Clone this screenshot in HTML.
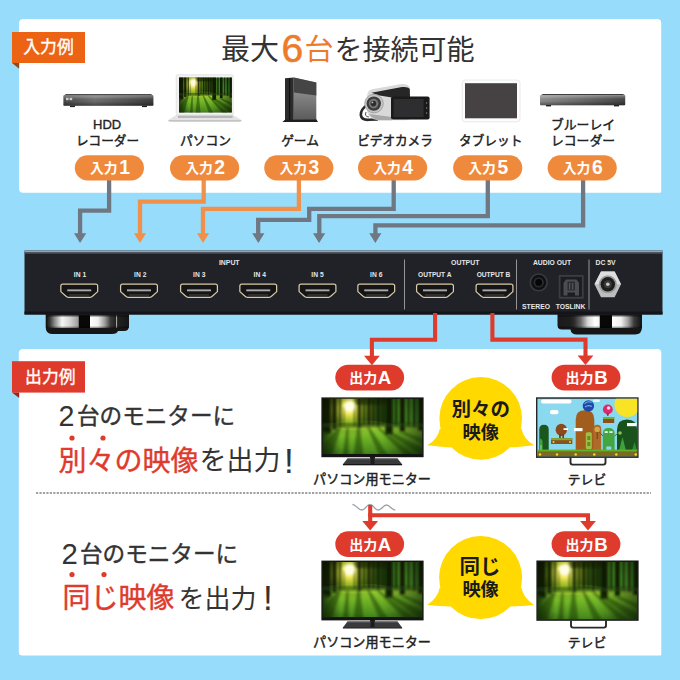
<!DOCTYPE html>
<html><head><meta charset="utf-8"><title>HDMI</title>
<style>html,body{margin:0;padding:0;background:#98dcfb;font-family:"Liberation Sans",sans-serif}svg{display:block}text{font-family:"Liberation Sans","Noto Sans CJK JP",sans-serif}</style>
</head><body>
<svg width="680" height="680" viewBox="0 0 680 680">
<rect width="680" height="680" fill="#98dcfb"/>
<defs>
<linearGradient id="gRec" x1="0" y1="0" x2="1" y2="0"><stop offset="0" stop-color="#4a4a4a"/><stop offset=".35" stop-color="#6e6e6e"/><stop offset="1" stop-color="#3c3c3c"/></linearGradient>
<linearGradient id="gRecV" x1="0" y1="0" x2="0" y2="1"><stop offset="0" stop-color="#fff" stop-opacity=".32"/><stop offset=".25" stop-color="#fff" stop-opacity=".12"/><stop offset=".55" stop-color="#000" stop-opacity="0"/><stop offset="1" stop-color="#000" stop-opacity=".4"/></linearGradient>
<linearGradient id="gGame" x1="0" y1="0" x2="0" y2="1"><stop offset=".3" stop-color="#8c8c8c"/><stop offset="1" stop-color="#5a5a5a"/></linearGradient>
<linearGradient id="gBd" x1="0" y1="0" x2="1" y2="0"><stop offset="0" stop-color="#8e8e8e"/><stop offset=".5" stop-color="#6a6a6a"/><stop offset="1" stop-color="#444"/></linearGradient>
<radialGradient id="gSun" cx=".5" cy=".5" r=".5"><stop offset="0" stop-color="#fffbc0"/><stop offset=".2" stop-color="#efe858"/><stop offset=".45" stop-color="#b4c82c" stop-opacity=".8"/><stop offset=".75" stop-color="#6a961c" stop-opacity=".35"/><stop offset="1" stop-color="#3f6a16" stop-opacity="0"/></radialGradient>
<linearGradient id="gCanopy" x1="0" y1="0" x2="1" y2="0"><stop offset="0" stop-color="#1a3010"/><stop offset=".18" stop-color="#3a5a14"/><stop offset=".3" stop-color="#6a8f1e"/><stop offset=".45" stop-color="#3a6416"/><stop offset=".62" stop-color="#2e5814"/><stop offset=".8" stop-color="#4a9026"/><stop offset="1" stop-color="#2e6a1e"/></linearGradient>
<linearGradient id="gGround" x1="0" y1="0" x2="0" y2="1"><stop offset="0" stop-color="#9fd036"/><stop offset=".4" stop-color="#74b626"/><stop offset="1" stop-color="#44841c"/></linearGradient>
<linearGradient id="gGroundH" x1="0" y1="0" x2="1" y2="0"><stop offset="0" stop-color="#10200a" stop-opacity=".75"/><stop offset=".18" stop-color="#10200a" stop-opacity="0"/><stop offset=".6" stop-color="#10200a" stop-opacity="0"/><stop offset="1" stop-color="#10200a" stop-opacity=".55"/></linearGradient>
<radialGradient id="gVig" cx=".45" cy=".5" r=".75"><stop offset=".6" stop-color="#000" stop-opacity="0"/><stop offset="1" stop-color="#000" stop-opacity=".3"/></radialGradient>
<filter id="fb" x="-5%" y="-5%" width="110%" height="110%"><feGaussianBlur stdDeviation=".8"/></filter>
<filter id="fb2" x="-50%" y="-50%" width="200%" height="200%"><feGaussianBlur stdDeviation="1.2"/></filter>
<linearGradient id="gFoot" x1="0" y1="0" x2="1" y2="0"><stop offset="0" stop-color="#111"/><stop offset=".05" stop-color="#333"/><stop offset=".12" stop-color="#777"/><stop offset=".28" stop-color="#d8d8d8"/><stop offset=".38" stop-color="#f0f0f0"/><stop offset=".39" stop-color="#111"/><stop offset=".52" stop-color="#111"/><stop offset=".53" stop-color="#fff"/><stop offset=".68" stop-color="#e0e0e0"/><stop offset=".8" stop-color="#777"/><stop offset=".82" stop-color="#222"/><stop offset="1" stop-color="#111"/></linearGradient>

</defs>
<path d="M23.5,18.9 H657.2 Q661.2,18.9 661.2,22.9 V191.60000000000002 Q661.2,192.8 660.0,192.8 H23 Q19,192.8 19,188.8 V23.4 Q19,18.9 23.5,18.9 Z" fill="#fff"/>
<polygon points="12,63 19.2,63 19.2,68.8" fill="#8f4a1c"/>
<rect x="12" y="32" width="73" height="31" fill="#ec6314"/>
<text x="48.5" y="53" font-size="16.8" text-anchor="middle" fill="#fff" stroke="#fff" stroke-width=".35">入力例</text>
<text x="221" y="60" font-size="29" fill="#333333">最大</text>
<text x="281.5" y="62.2" font-size="39" fill="#ee7b2a" stroke="#ee7b2a" stroke-width=".6">6</text>
<text x="304.5" y="60.3" font-size="29" fill="#ee7b2a">台</text>
<text x="334.5" y="60" font-size="28" fill="#333333">を接続可能</text>
<g><polygon points="66,93.9 151,93.9 153.4,95.8 63.4,95.8" fill="#4c4c4c"/><rect x="63.4" y="95.6" width="90" height="10.2" rx=".8" fill="url(#gRec)"/><rect x="63.4" y="95.6" width="90" height="10.2" rx=".8" fill="url(#gRecV)"/><rect x="66" y="97.8" width="2.6" height="2.4" fill="#ccc"/><rect x="69.6" y="97.8" width="2.6" height="2.4" fill="#ccc"/><rect x="70" y="105.6" width="5" height="1.5" fill="#222"/><rect x="142" y="105.6" width="5" height="1.5" fill="#222"/></g>
<g><rect x="176.2" y="74.7" width="57" height="40.3" rx="1.5" fill="#f2f2f2" stroke="#d8d8d8" stroke-width=".6"/><svg x="179.1" y="77.6" width="52.7" height="35" viewBox="0 0 100 56" preserveAspectRatio="none"><defs><filter id="fb_1" x="-5%" y="-5%" width="110%" height="110%"><feGaussianBlur stdDeviation="0.569 0.480"/></filter><filter id="fc_1" x="-60%" y="-60%" width="220%" height="220%"><feGaussianBlur stdDeviation="1.898 1.600"/></filter></defs>
<rect width="100" height="56" fill="#16280c"/>
<rect width="100" height="30" fill="url(#gCanopy)"/>
<rect y="26" width="100" height="30" fill="url(#gGround)"/>
<rect y="26" width="100" height="30" fill="url(#gGroundH)"/>
<ellipse cx="27" cy="10" rx="32" ry="28" fill="url(#gSun)"/><ellipse cx="36" cy="27" rx="34" ry="5" fill="#a8cc34" opacity=".45"/>
<g filter="url(#fb_1)">
<g fill="#0c1806">
<rect x="-2" y="-2" width="10" height="37" opacity=".95"/><rect x="9.5" y="-2" width="4.5" height="33" opacity=".9"/>
<rect x="16" y="-2" width="2.6" height="31" opacity=".7"/><rect x="20.5" y="8" width="1.4" height="21" opacity=".4"/>
<rect x="31.2" y="-2" width="1.8" height="30" opacity=".5"/>
<rect x="35" y="-2" width="3.8" height="31" opacity=".85"/><rect x="40.3" y="-2" width="2.6" height="29" opacity=".8"/>
<rect x="44.6" y="-2" width="3.6" height="29" opacity=".85"/><rect x="49.6" y="-2" width="2.8" height="29" opacity=".8"/>
<rect x="54" y="-2" width="3.6" height="30" opacity=".85"/><rect x="59" y="-2" width="2.8" height="29" opacity=".8"/>
<rect x="63" y="-2" width="7.2" height="38" opacity=".95"/><rect x="72.5" y="-2" width="2.5" height="30" opacity=".8"/>
<rect x="77.5" y="-2" width="5" height="35" opacity=".95"/><rect x="85" y="-2" width="2.5" height="30" opacity=".75"/>
<rect x="90.5" y="-2" width="3" height="31" opacity=".8"/><rect x="96" y="-2" width="6" height="34" opacity=".95"/>
<rect x="33" y="-2" width="30" height="8" opacity=".55"/>
</g>
<g fill="#1a3a0a" opacity=".5">
<polygon points="15.5,29 18.5,29 9,58 -4,58 -4,50"/><polygon points="34.5,29 37.5,29 41,58 31,58"/>
<polygon points="44.5,28.5 47,28.5 66,58 57,58"/><polygon points="54,29 57,29 94,58 83,58"/>
<polygon points="63,34 70,34 104,52 104,58 99,58"/><polygon points="-4,30 8,34 -4,48"/>
<polygon points="77,34 83,34 104,42 104,47"/><polygon points="24,29 26,29 26,58 20,58"/>
</g>
<rect x="-2" y="24.5" width="104" height="4.5" fill="#1b3a0c" opacity=".5"/>
</g>
<circle cx="27" cy="7.5" r="5.6" fill="#fffde6" filter="url(#fc_1)"/>
<rect width="100" height="56" fill="url(#gVig)"/>
</svg><polygon points="176.2,115 233.2,115 241.5,120 168.3,120" fill="#e4e4e4"/><rect x="178" y="115.6" width="54.6" height="2.4" fill="#b8b8b8"/><path d="M168.3,120 H241.5 V120.8 Q241.5,121.8 239,121.8 H170.8 Q168.3,121.8 168.3,120.8Z" fill="#c4c4c4"/></g>
<g><polygon points="285,78.2 293.8,77.5 293.8,120.3 285,120.3" fill="#2c2c2c"/><polygon points="293.8,77.5 316.3,82.4 316.3,119.9 293.8,120.3" fill="url(#gGame)"/><polygon points="293.8,77.5 316.3,82.4 316.3,95.6 293.8,92.5" fill="#454545"/><rect x="289" y="78" width="1.2" height="42" fill="#111"/><polygon points="282.4,122 285,119.8 316.5,119.6 318,122" fill="#1e1e1e"/></g>
<g><path d="M368.5,104 Q360.5,109 360.8,115 Q361.5,120.3 369,119.8 L377,119.5" fill="none" stroke="#2a2a2a" stroke-width="2.6" stroke-linecap="round"/><path d="M366,112 Q364,116.5 369,117" fill="none" stroke="#555" stroke-width="1"/><path d="M367,97 Q367,91 372,89.3 L400,84.2 Q407.5,83.4 409.8,87.5 L410.2,118 Q409.5,120.2 406,120.2 L379,120.2 Q367.5,119.5 367,110Z" fill="#d9d9d9"/><path d="M371.5,92.8 L402,87 Q408,86.4 409.8,89 L410,98 L392,97.5 L378,95.2Z" fill="#262626"/><path d="M379,120.2 Q372,119 369,114 L392,117 V120.2Z" fill="#a8a8a8"/><circle cx="374" cy="103.6" r="9.3" fill="#c4c4c4"/><circle cx="374" cy="103.6" r="9.3" fill="none" stroke="#9a9a9a" stroke-width=".8"/><circle cx="373.8" cy="103.6" r="7.2" fill="#3c3c3c"/><circle cx="373.6" cy="103.6" r="4.8" fill="#777"/><circle cx="373.4" cy="103.6" r="2.8" fill="#2c2c2c"/><circle cx="372.4" cy="102.4" r=".9" fill="#bbb"/><rect x="391" y="96.6" width="38.6" height="22.9" rx="2" fill="#1a1a1a"/><rect x="393.6" y="99" width="30" height="18" fill="#2e2e30"/><circle cx="426.7" cy="103" r=".7" fill="#888"/><circle cx="426.7" cy="108" r=".7" fill="#888"/><circle cx="426.7" cy="113" r=".7" fill="#888"/></g>
<g><rect x="462.2" y="80" width="57.8" height="41.8" rx="3" fill="#fdfdfd" stroke="#e4e4e4" stroke-width=".8"/><rect x="465" y="83.2" width="52" height="35.1" fill="#464143"/></g>
<g><polygon points="543,93.9 623,93.9 625.5,95.6 540,95.6" fill="#3e3e3e"/><rect x="540" y="95.4" width="85.2" height="9.8" rx=".8" fill="url(#gBd)"/><rect x="540" y="95.4" width="85.2" height="9.8" rx=".8" fill="url(#gRecV)"/><rect x="546" y="105" width="5" height="1.4" fill="#222"/><rect x="614" y="105" width="5" height="1.4" fill="#222"/></g>
<text x="107.1" y="128.6" font-size="13" text-anchor="middle" fill="#222222" stroke="#222" stroke-width=".35">HDD</text>
<text x="107.5" y="145" font-size="12.6" text-anchor="middle" fill="#222222" stroke="#222" stroke-width=".45">レコーダー</text>
<text x="205.5" y="145" font-size="12.75" text-anchor="middle" fill="#222222" stroke="#222" stroke-width=".45">パソコン</text>
<text x="300" y="145" font-size="12.7" text-anchor="middle" fill="#222222" stroke="#222" stroke-width=".45">ゲーム</text>
<text x="395" y="145" font-size="12.6" text-anchor="middle" fill="#222222" stroke="#222" stroke-width=".45">ビデオカメラ</text>
<text x="490.7" y="145" font-size="12.7" text-anchor="middle" fill="#222222" stroke="#222" stroke-width=".45">タブレット</text>
<text x="583" y="129" font-size="12.8" text-anchor="middle" fill="#222222" stroke="#222" stroke-width=".45">ブルーレイ</text>
<text x="583" y="145" font-size="12.8" text-anchor="middle" fill="#222222" stroke="#222" stroke-width=".45">レコーダー</text>
<path d="M109.1,178 V210.6 H80.1 V234" fill="none" stroke="#6f7782" stroke-width="4.3" stroke-linejoin="miter"/>
<polygon points="74.0,233.20000000000002 86.19999999999999,233.20000000000002 80.1,242.9" fill="#6f7782"/>
<path d="M203.7,178 V201.7 H140 V234" fill="none" stroke="#f0914b" stroke-width="4.3" stroke-linejoin="miter"/>
<polygon points="133.9,233.3 146.1,233.3 140,243" fill="#f0914b"/>
<path d="M298.9,178 V208.9 H203 V234" fill="none" stroke="#f0914b" stroke-width="4.3" stroke-linejoin="miter"/>
<polygon points="196.9,233.3 209.1,233.3 203,243" fill="#f0914b"/>
<path d="M393.7,178 V208.9 H309.2 V219.8 H258.2 V234" fill="none" stroke="#6f7782" stroke-width="4.3" stroke-linejoin="miter"/>
<polygon points="252.20000000000002,233.20000000000002 264.40000000000003,233.20000000000002 258.3,242.9" fill="#6f7782"/>
<path d="M487.8,178 V216.2 H319.3 V234" fill="none" stroke="#6f7782" stroke-width="4.3" stroke-linejoin="miter"/>
<polygon points="313.0,233.20000000000002 325.20000000000005,233.20000000000002 319.1,242.9" fill="#6f7782"/>
<path d="M583.1,178 V225.3 H375.4 V234" fill="none" stroke="#6f7782" stroke-width="4.3" stroke-linejoin="miter"/>
<polygon points="369.2,233.20000000000002 381.40000000000003,233.20000000000002 375.3,242.9" fill="#6f7782"/>
<rect x="74.8" y="155.3" width="69.2" height="25.1" rx="12.55" fill="#ef8a3c"/>
<text x="90" y="172.9" font-size="13.8" font-weight="bold" fill="#fff">入力</text>
<text x="119.2" y="174" font-size="19.3" font-weight="bold" fill="#fff">1</text>
<rect x="170" y="155.3" width="69.2" height="25.1" rx="12.55" fill="#ef8a3c"/>
<text x="185.2" y="172.9" font-size="13.8" font-weight="bold" fill="#fff">入力</text>
<text x="214.3" y="174" font-size="19.3" font-weight="bold" fill="#fff">2</text>
<rect x="264.2" y="155.3" width="69.2" height="25.1" rx="12.55" fill="#ef8a3c"/>
<text x="279.4" y="172.9" font-size="13.8" font-weight="bold" fill="#fff">入力</text>
<text x="308.5" y="174" font-size="19.3" font-weight="bold" fill="#fff">3</text>
<rect x="358" y="155.3" width="69.2" height="25.1" rx="12.55" fill="#ef8a3c"/>
<text x="373.2" y="172.9" font-size="13.8" font-weight="bold" fill="#fff">入力</text>
<text x="402.3" y="174" font-size="19.3" font-weight="bold" fill="#fff">4</text>
<rect x="453.1" y="155.3" width="69.2" height="25.1" rx="12.55" fill="#ef8a3c"/>
<text x="468.3" y="172.9" font-size="13.8" font-weight="bold" fill="#fff">入力</text>
<text x="497.4" y="174" font-size="19.3" font-weight="bold" fill="#fff">5</text>
<rect x="547.6" y="155.3" width="69.2" height="25.1" rx="12.55" fill="#ef8a3c"/>
<text x="562.8" y="172.9" font-size="13.8" font-weight="bold" fill="#fff">入力</text>
<text x="591.9" y="174" font-size="19.3" font-weight="bold" fill="#fff">6</text>
<g>
<linearGradient id="gF1" gradientUnits="userSpaceOnUse" x1="46" y1="0" x2="130" y2="0"><stop offset="0.0000" stop-color="#0e0e0e"/><stop offset="0.0476" stop-color="#3a3a3a"/><stop offset="0.1071" stop-color="#909090"/><stop offset="0.1905" stop-color="#f6f6f6"/><stop offset="0.2857" stop-color="#d4d4d4"/><stop offset="0.3857" stop-color="#9c9c9c"/><stop offset="0.3905" stop-color="#080808"/><stop offset="0.5190" stop-color="#080808"/><stop offset="0.5238" stop-color="#ffffff"/><stop offset="0.6190" stop-color="#f0f0f0"/><stop offset="0.7024" stop-color="#999"/><stop offset="0.7690" stop-color="#3a3a3a"/><stop offset="0.8310" stop-color="#222"/><stop offset="0.8381" stop-color="#b0b0b0"/><stop offset="0.8524" stop-color="#222"/><stop offset="1.0000" stop-color="#141414"/></linearGradient>
<linearGradient id="gF2" gradientUnits="userSpaceOnUse" x1="557" y1="0" x2="642" y2="0"><stop offset="0.0000" stop-color="#1a1a1a"/><stop offset="0.1529" stop-color="#1e1e1e"/><stop offset="0.2000" stop-color="#2a2a2a"/><stop offset="0.2824" stop-color="#6a6a6a"/><stop offset="0.3647" stop-color="#d8d8d8"/><stop offset="0.4471" stop-color="#ffffff"/><stop offset="0.4988" stop-color="#f4f4f4"/><stop offset="0.5035" stop-color="#080808"/><stop offset="0.6447" stop-color="#080808"/><stop offset="0.6494" stop-color="#ffffff"/><stop offset="0.7529" stop-color="#f0f0f0"/><stop offset="0.8353" stop-color="#a0a0a0"/><stop offset="0.9059" stop-color="#3a3a3a"/><stop offset="1.0000" stop-color="#101010"/></linearGradient>
<path d="M45.7,313 H129 V326 Q129,331 124,331 H118 Q117,334 112,334 H52 Q45.7,334 45.7,327 Z" fill="#161616"/>
<rect x="46.5" y="315.6" width="82" height="12.4" fill="url(#gF1)"/>
<rect x="46.5" y="315.6" width="82" height="1.2" fill="#000" opacity=".35"/><rect x="46.5" y="326.6" width="82" height="1.4" fill="#000" opacity=".35"/>
<path d="M557.5,313 H642 V327 Q642,334.5 635,334.5 H577 Q571,334.5 570.5,329.5 H562 Q557.5,329.5 557.5,325 Z" fill="#161616"/>
<rect x="558" y="315.6" width="83.5" height="12.4" fill="url(#gF2)"/>
<rect x="558" y="315.6" width="83.5" height="1.2" fill="#000" opacity=".35"/><rect x="558" y="326.6" width="83.5" height="1.4" fill="#000" opacity=".35"/>
<rect x="24.5" y="250.5" width="638" height="64" fill="#202228"/>
<rect x="24.5" y="250.6" width="638" height="1.7" fill="#98a4b0"/><rect x="24.5" y="252.3" width="638" height="1.3" fill="#565e68"/>
<rect x="24.5" y="311.5" width="638" height="3" fill="#141518"/>
<rect x="404.0" y="259.5" width="1" height="50" fill="#959595"/>
<rect x="516.0" y="259.5" width="1" height="50" fill="#959595"/>
<rect x="588.5" y="259.5" width="1" height="50" fill="#959595"/>
<path d="M62.85,284 H95.65 Q97.65,284 97.65,286 V291.6 L92.45,296.2 Q91.65,297.4 90.15,297.4 H68.35 Q66.85,297.4 66.05,296.2 L60.85,291.6 V286 Q60.85,284 62.85,284 Z" fill="#151517" stroke="#d6c9a6" stroke-width="1.25" stroke-linejoin="round"/>
<rect x="67.25" y="289.4" width="24" height="1.9" fill="#a9a9a9"/>
<rect x="69.25" y="294.6" width="20" height=".8" fill="#6d6650" opacity=".8"/>
<path d="M122.6,284 H155.4 Q157.4,284 157.4,286 V291.6 L152.20000000000002,296.2 Q151.4,297.4 149.9,297.4 H128.1 Q126.6,297.4 125.8,296.2 L120.6,291.6 V286 Q120.6,284 122.6,284 Z" fill="#151517" stroke="#d6c9a6" stroke-width="1.25" stroke-linejoin="round"/>
<rect x="127" y="289.4" width="24" height="1.9" fill="#a9a9a9"/>
<rect x="129" y="294.6" width="20" height=".8" fill="#6d6650" opacity=".8"/>
<path d="M182.6,284 H215.4 Q217.4,284 217.4,286 V291.6 L212.20000000000002,296.2 Q211.4,297.4 209.9,297.4 H188.1 Q186.6,297.4 185.79999999999998,296.2 L180.6,291.6 V286 Q180.6,284 182.6,284 Z" fill="#151517" stroke="#d6c9a6" stroke-width="1.25" stroke-linejoin="round"/>
<rect x="187" y="289.4" width="24" height="1.9" fill="#a9a9a9"/>
<rect x="189" y="294.6" width="20" height=".8" fill="#6d6650" opacity=".8"/>
<path d="M241.85,284 H274.65 Q276.65,284 276.65,286 V291.6 L271.45,296.2 Q270.65,297.4 269.15,297.4 H247.35 Q245.85,297.4 245.04999999999998,296.2 L239.85,291.6 V286 Q239.85,284 241.85,284 Z" fill="#151517" stroke="#d6c9a6" stroke-width="1.25" stroke-linejoin="round"/>
<rect x="246.25" y="289.4" width="24" height="1.9" fill="#a9a9a9"/>
<rect x="248.25" y="294.6" width="20" height=".8" fill="#6d6650" opacity=".8"/>
<path d="M301.1,284 H333.9 Q335.9,284 335.9,286 V291.6 L330.7,296.2 Q329.9,297.4 328.4,297.4 H306.6 Q305.1,297.4 304.3,296.2 L299.1,291.6 V286 Q299.1,284 301.1,284 Z" fill="#151517" stroke="#d6c9a6" stroke-width="1.25" stroke-linejoin="round"/>
<rect x="305.5" y="289.4" width="24" height="1.9" fill="#a9a9a9"/>
<rect x="307.5" y="294.6" width="20" height=".8" fill="#6d6650" opacity=".8"/>
<path d="M359.85,284 H392.65 Q394.65,284 394.65,286 V291.6 L389.45,296.2 Q388.65,297.4 387.15,297.4 H365.35 Q363.85,297.4 363.05,296.2 L357.85,291.6 V286 Q357.85,284 359.85,284 Z" fill="#151517" stroke="#d6c9a6" stroke-width="1.25" stroke-linejoin="round"/>
<rect x="364.25" y="289.4" width="24" height="1.9" fill="#a9a9a9"/>
<rect x="366.25" y="294.6" width="20" height=".8" fill="#6d6650" opacity=".8"/>
<path d="M418.6,284 H451.4 Q453.4,284 453.4,286 V291.6 L448.2,296.2 Q447.4,297.4 445.9,297.4 H424.1 Q422.6,297.4 421.8,296.2 L416.6,291.6 V286 Q416.6,284 418.6,284 Z" fill="#151517" stroke="#d6c9a6" stroke-width="1.25" stroke-linejoin="round"/>
<rect x="423" y="289.4" width="24" height="1.9" fill="#a9a9a9"/>
<rect x="425" y="294.6" width="20" height=".8" fill="#6d6650" opacity=".8"/>
<path d="M478.1,284 H510.9 Q512.9,284 512.9,286 V291.6 L507.7,296.2 Q506.9,297.4 505.4,297.4 H483.6 Q482.1,297.4 481.3,296.2 L476.1,291.6 V286 Q476.1,284 478.1,284 Z" fill="#151517" stroke="#d6c9a6" stroke-width="1.25" stroke-linejoin="round"/>
<rect x="482.5" y="289.4" width="24" height="1.9" fill="#a9a9a9"/>
<rect x="484.5" y="294.6" width="20" height=".8" fill="#6d6650" opacity=".8"/>
<text x="80" y="277.3" font-size="6.7" font-weight="bold" text-anchor="middle" fill="#e6e6e6">IN 1</text>
<text x="140.25" y="277.3" font-size="6.7" font-weight="bold" text-anchor="middle" fill="#e6e6e6">IN 2</text>
<text x="199.25" y="277.3" font-size="6.7" font-weight="bold" text-anchor="middle" fill="#e6e6e6">IN 3</text>
<text x="259.75" y="277.3" font-size="6.7" font-weight="bold" text-anchor="middle" fill="#e6e6e6">IN 4</text>
<text x="317.5" y="277.3" font-size="6.7" font-weight="bold" text-anchor="middle" fill="#e6e6e6">IN 5</text>
<text x="376.25" y="277.3" font-size="6.7" font-weight="bold" text-anchor="middle" fill="#e6e6e6">IN 6</text>
<text x="229.25" y="265.4" font-size="6.9" font-weight="bold" text-anchor="middle" fill="#e6e6e6">INPUT</text>
<text x="465.25" y="265.4" font-size="6.9" font-weight="bold" text-anchor="middle" fill="#e6e6e6">OUTPUT</text>
<text x="434.75" y="277.2" font-size="6.6" font-weight="bold" text-anchor="middle" fill="#e6e6e6">OUTPUT A</text>
<text x="493.5" y="277.2" font-size="6.6" font-weight="bold" text-anchor="middle" fill="#e6e6e6">OUTPUT B</text>
<text x="552" y="265.4" font-size="6.8" font-weight="bold" text-anchor="middle" fill="#e6e6e6">AUDIO OUT</text>
<text x="605.5" y="265.4" font-size="6.8" font-weight="bold" text-anchor="middle" fill="#e6e6e6">DC 5V</text>
<text x="536" y="308.9" font-size="6.8" font-weight="bold" text-anchor="middle" fill="#e6e6e6">STEREO</text>
<text x="570.5" y="308.9" font-size="6.8" font-weight="bold" text-anchor="middle" fill="#e6e6e6">TOSLINK</text>
<circle cx="538.7" cy="282.4" r="9.2" fill="#3a3b40"/><circle cx="538.7" cy="282.4" r="7.6" fill="#101012"/><circle cx="538.7" cy="282.4" r="5.2" fill="#2a2b2f"/><circle cx="538.7" cy="282.4" r="3.4" fill="#050505"/>
<rect x="558.7" y="275" width="25" height="23.7" rx="1" fill="#3c3d42"/><rect x="560.5" y="276.8" width="21.4" height="20" fill="#1c1d20"/><path d="M563.5,295.5 V283 L566,279.5 H576.5 L579,283 V295.5 H575 V292.5 H567.5 V295.5Z" fill="#4c4d52"/><rect x="567.5" y="281.5" width="7.5" height="9" fill="#2c2d30"/><rect x="569" y="283" width="1.2" height="6.5" fill="#55565b"/><rect x="572" y="283" width="1.2" height="6.5" fill="#55565b"/>
<polygon points="594.5,284.3 601,271.5 614.6,271.5 621,284.3 614.6,297.2 601,297.2" fill="#bdbdbd"/><polygon points="594.5,284.3 601,271.5 614.6,271.5 621,284.3" fill="#dedede"/><circle cx="607.8" cy="284.3" r="9" fill="#9a9a9a"/><circle cx="607.8" cy="284.3" r="7.2" fill="#1d1d1d"/><circle cx="607.8" cy="284.3" r="4" fill="#3a3a3a"/><circle cx="607.8" cy="284.3" r="1.8" fill="#c8c8c8"/>
</g>
<path d="M23.3,348.9 H657.3 Q661.3,348.9 661.3,352.9 V654.3 Q661.3,655.5 660.0999999999999,655.5 H22.3 Q18.8,655.5 18.8,652.0 V353.4 Q18.8,348.9 23.3,348.9 Z" fill="#fff"/>
<polygon points="12,392.6 19.2,392.6 19.2,398" fill="#9c2419"/>
<rect x="12" y="361.2" width="73" height="31.4" fill="#de3b2d"/>
<text x="50.3" y="382.7" font-size="16.8" text-anchor="middle" fill="#fff" stroke="#fff" stroke-width=".35">出力例</text>
<path d="M435.1,313 V339.7 H371.9 V356" fill="none" stroke="#de3b2d" stroke-width="4.1" stroke-linejoin="miter"/>
<polygon points="364.0,355.7 379.79999999999995,355.7 371.9,365.2" fill="#de3b2d"/>
<path d="M492.4,313 V339.6 H585.5 V356" fill="none" stroke="#de3b2d" stroke-width="4.1" stroke-linejoin="miter"/>
<polygon points="577.6,355.5 593.4,355.5 585.5,365" fill="#de3b2d"/>
<path d="M352.4,504.4 C356,504.4 358,510 361.8,510 S366.5,504.4 370,504.4 S374.5,510 378.2,510 S383,505 386.5,505 S391.5,510 395.3,510" fill="none" stroke="#9aa3a8" stroke-width="1.3"/>
<path d="M370.2,505 V523" fill="none" stroke="#de3b2d" stroke-width="4.1" stroke-linejoin="miter"/>
<polygon points="362.3,521.1 378.09999999999997,521.1 370.2,530.6" fill="#de3b2d"/>
<path d="M368.2,515.3 H588 V523" fill="none" stroke="#de3b2d" stroke-width="4.1" stroke-linejoin="miter"/>
<polygon points="580.1,521.1 595.9,521.1 588,530.6" fill="#de3b2d"/>
<rect x="335.3" y="364.7" width="68.8" height="25.7" rx="12.85" fill="#de3b2d"/>
<text x="349.2" y="383" font-size="14" font-weight="bold" fill="#fff">出力</text>
<text x="377.8" y="384.2" font-size="18.6" font-weight="bold" fill="#fff">A</text>
<rect x="551.6" y="364.7" width="68.8" height="25.7" rx="12.85" fill="#de3b2d"/>
<text x="565.5" y="383" font-size="14" font-weight="bold" fill="#fff">出力</text>
<text x="594.2" y="384.2" font-size="18.6" font-weight="bold" fill="#fff">B</text>
<rect x="335.3" y="531.2" width="68.8" height="25.7" rx="12.85" fill="#de3b2d"/>
<text x="349.2" y="549.5" font-size="14" font-weight="bold" fill="#fff">出力</text>
<text x="377.8" y="550.7" font-size="18.6" font-weight="bold" fill="#fff">A</text>
<rect x="551.6" y="531.2" width="68.8" height="25.7" rx="12.85" fill="#de3b2d"/>
<text x="565.5" y="549.5" font-size="14" font-weight="bold" fill="#fff">出力</text>
<text x="594.2" y="550.7" font-size="18.6" font-weight="bold" fill="#fff">B</text>
<rect x="321.4" y="397.4" width="102.20000000000005" height="59.80000000000001" fill="#141414"/>
<svg x="322.7" y="398.7" width="99.60000000000005" height="55.40000000000001" viewBox="0 0 100 56" preserveAspectRatio="none"><defs><filter id="fb_2" x="-5%" y="-5%" width="110%" height="110%"><feGaussianBlur stdDeviation="0.954 0.960"/></filter><filter id="fc_2" x="-60%" y="-60%" width="220%" height="220%"><feGaussianBlur stdDeviation="1.506 1.516"/></filter></defs>
<rect width="100" height="56" fill="#16280c"/>
<rect width="100" height="30" fill="url(#gCanopy)"/>
<rect y="26" width="100" height="30" fill="url(#gGround)"/>
<rect y="26" width="100" height="30" fill="url(#gGroundH)"/>
<ellipse cx="27" cy="10" rx="32" ry="28" fill="url(#gSun)"/><ellipse cx="36" cy="27" rx="34" ry="5" fill="#a8cc34" opacity=".45"/>
<g filter="url(#fb_2)">
<g fill="#0c1806">
<rect x="-2" y="-2" width="10" height="37" opacity=".95"/><rect x="9.5" y="-2" width="4.5" height="33" opacity=".9"/>
<rect x="16" y="-2" width="2.6" height="31" opacity=".7"/><rect x="20.5" y="8" width="1.4" height="21" opacity=".4"/>
<rect x="31.2" y="-2" width="1.8" height="30" opacity=".5"/>
<rect x="35" y="-2" width="3.8" height="31" opacity=".85"/><rect x="40.3" y="-2" width="2.6" height="29" opacity=".8"/>
<rect x="44.6" y="-2" width="3.6" height="29" opacity=".85"/><rect x="49.6" y="-2" width="2.8" height="29" opacity=".8"/>
<rect x="54" y="-2" width="3.6" height="30" opacity=".85"/><rect x="59" y="-2" width="2.8" height="29" opacity=".8"/>
<rect x="63" y="-2" width="7.2" height="38" opacity=".95"/><rect x="72.5" y="-2" width="2.5" height="30" opacity=".8"/>
<rect x="77.5" y="-2" width="5" height="35" opacity=".95"/><rect x="85" y="-2" width="2.5" height="30" opacity=".75"/>
<rect x="90.5" y="-2" width="3" height="31" opacity=".8"/><rect x="96" y="-2" width="6" height="34" opacity=".95"/>
<rect x="33" y="-2" width="30" height="8" opacity=".55"/>
</g>
<g fill="#1a3a0a" opacity=".5">
<polygon points="15.5,29 18.5,29 9,58 -4,58 -4,50"/><polygon points="34.5,29 37.5,29 41,58 31,58"/>
<polygon points="44.5,28.5 47,28.5 66,58 57,58"/><polygon points="54,29 57,29 94,58 83,58"/>
<polygon points="63,34 70,34 104,52 104,58 99,58"/><polygon points="-4,30 8,34 -4,48"/>
<polygon points="77,34 83,34 104,42 104,47"/><polygon points="24,29 26,29 26,58 20,58"/>
</g>
<rect x="-2" y="24.5" width="104" height="4.5" fill="#1b3a0c" opacity=".5"/>
</g>
<circle cx="27" cy="7.5" r="5.6" fill="#fffde6" filter="url(#fc_2)"/>
<rect width="100" height="56" fill="url(#gVig)"/>
</svg>
<rect x="370.0" y="456.7" width="5" height="3" fill="#1a1a1a"/>
<polygon points="347.5,458.4 397.5,458.4 402.1,464.2 342.9,464.2" fill="#3a3a3c"/>
<polygon points="347.5,458.4 397.5,458.4 398.5,459.59999999999997 346.5,459.59999999999997" fill="#555558"/>
<rect x="342.9" y="464.0" width="59.2" height="1.3" fill="#151515"/>
<rect x="370.5" y="458.0" width="4" height="6" fill="#1c1c1c"/>
<rect x="321.4" y="560.6" width="102.20000000000005" height="59.799999999999955" fill="#141414"/>
<svg x="322.7" y="561.9" width="99.60000000000005" height="55.399999999999956" viewBox="0 0 100 56" preserveAspectRatio="none"><defs><filter id="fb_3" x="-5%" y="-5%" width="110%" height="110%"><feGaussianBlur stdDeviation="0.954 0.960"/></filter><filter id="fc_3" x="-60%" y="-60%" width="220%" height="220%"><feGaussianBlur stdDeviation="1.506 1.516"/></filter></defs>
<rect width="100" height="56" fill="#16280c"/>
<rect width="100" height="30" fill="url(#gCanopy)"/>
<rect y="26" width="100" height="30" fill="url(#gGround)"/>
<rect y="26" width="100" height="30" fill="url(#gGroundH)"/>
<ellipse cx="27" cy="10" rx="32" ry="28" fill="url(#gSun)"/><ellipse cx="36" cy="27" rx="34" ry="5" fill="#a8cc34" opacity=".45"/>
<g filter="url(#fb_3)">
<g fill="#0c1806">
<rect x="-2" y="-2" width="10" height="37" opacity=".95"/><rect x="9.5" y="-2" width="4.5" height="33" opacity=".9"/>
<rect x="16" y="-2" width="2.6" height="31" opacity=".7"/><rect x="20.5" y="8" width="1.4" height="21" opacity=".4"/>
<rect x="31.2" y="-2" width="1.8" height="30" opacity=".5"/>
<rect x="35" y="-2" width="3.8" height="31" opacity=".85"/><rect x="40.3" y="-2" width="2.6" height="29" opacity=".8"/>
<rect x="44.6" y="-2" width="3.6" height="29" opacity=".85"/><rect x="49.6" y="-2" width="2.8" height="29" opacity=".8"/>
<rect x="54" y="-2" width="3.6" height="30" opacity=".85"/><rect x="59" y="-2" width="2.8" height="29" opacity=".8"/>
<rect x="63" y="-2" width="7.2" height="38" opacity=".95"/><rect x="72.5" y="-2" width="2.5" height="30" opacity=".8"/>
<rect x="77.5" y="-2" width="5" height="35" opacity=".95"/><rect x="85" y="-2" width="2.5" height="30" opacity=".75"/>
<rect x="90.5" y="-2" width="3" height="31" opacity=".8"/><rect x="96" y="-2" width="6" height="34" opacity=".95"/>
<rect x="33" y="-2" width="30" height="8" opacity=".55"/>
</g>
<g fill="#1a3a0a" opacity=".5">
<polygon points="15.5,29 18.5,29 9,58 -4,58 -4,50"/><polygon points="34.5,29 37.5,29 41,58 31,58"/>
<polygon points="44.5,28.5 47,28.5 66,58 57,58"/><polygon points="54,29 57,29 94,58 83,58"/>
<polygon points="63,34 70,34 104,52 104,58 99,58"/><polygon points="-4,30 8,34 -4,48"/>
<polygon points="77,34 83,34 104,42 104,47"/><polygon points="24,29 26,29 26,58 20,58"/>
</g>
<rect x="-2" y="24.5" width="104" height="4.5" fill="#1b3a0c" opacity=".5"/>
</g>
<circle cx="27" cy="7.5" r="5.6" fill="#fffde6" filter="url(#fc_3)"/>
<rect width="100" height="56" fill="url(#gVig)"/>
</svg>
<rect x="370.0" y="619.9" width="5" height="3" fill="#1a1a1a"/>
<polygon points="347.5,621.6 397.5,621.6 402.1,627.4 342.9,627.4" fill="#3a3a3c"/>
<polygon points="347.5,621.6 397.5,621.6 398.5,622.8 346.5,622.8" fill="#555558"/>
<rect x="342.9" y="627.1999999999999" width="59.2" height="1.3" fill="#151515"/>
<rect x="370.5" y="621.1999999999999" width="4" height="6" fill="#1c1c1c"/>
<rect x="536.4" y="560.5" width="102.2" height="60.3" fill="#141414"/>
<svg x="537.6" y="561.7" width="99.8" height="57.9" viewBox="0 0 100 56" preserveAspectRatio="none"><defs><filter id="fb_4" x="-5%" y="-5%" width="110%" height="110%"><feGaussianBlur stdDeviation="0.952 0.919"/></filter><filter id="fc_4" x="-60%" y="-60%" width="220%" height="220%"><feGaussianBlur stdDeviation="1.503 1.451"/></filter></defs>
<rect width="100" height="56" fill="#16280c"/>
<rect width="100" height="30" fill="url(#gCanopy)"/>
<rect y="26" width="100" height="30" fill="url(#gGround)"/>
<rect y="26" width="100" height="30" fill="url(#gGroundH)"/>
<ellipse cx="27" cy="10" rx="32" ry="28" fill="url(#gSun)"/><ellipse cx="36" cy="27" rx="34" ry="5" fill="#a8cc34" opacity=".45"/>
<g filter="url(#fb_4)">
<g fill="#0c1806">
<rect x="-2" y="-2" width="10" height="37" opacity=".95"/><rect x="9.5" y="-2" width="4.5" height="33" opacity=".9"/>
<rect x="16" y="-2" width="2.6" height="31" opacity=".7"/><rect x="20.5" y="8" width="1.4" height="21" opacity=".4"/>
<rect x="31.2" y="-2" width="1.8" height="30" opacity=".5"/>
<rect x="35" y="-2" width="3.8" height="31" opacity=".85"/><rect x="40.3" y="-2" width="2.6" height="29" opacity=".8"/>
<rect x="44.6" y="-2" width="3.6" height="29" opacity=".85"/><rect x="49.6" y="-2" width="2.8" height="29" opacity=".8"/>
<rect x="54" y="-2" width="3.6" height="30" opacity=".85"/><rect x="59" y="-2" width="2.8" height="29" opacity=".8"/>
<rect x="63" y="-2" width="7.2" height="38" opacity=".95"/><rect x="72.5" y="-2" width="2.5" height="30" opacity=".8"/>
<rect x="77.5" y="-2" width="5" height="35" opacity=".95"/><rect x="85" y="-2" width="2.5" height="30" opacity=".75"/>
<rect x="90.5" y="-2" width="3" height="31" opacity=".8"/><rect x="96" y="-2" width="6" height="34" opacity=".95"/>
<rect x="33" y="-2" width="30" height="8" opacity=".55"/>
</g>
<g fill="#1a3a0a" opacity=".5">
<polygon points="15.5,29 18.5,29 9,58 -4,58 -4,50"/><polygon points="34.5,29 37.5,29 41,58 31,58"/>
<polygon points="44.5,28.5 47,28.5 66,58 57,58"/><polygon points="54,29 57,29 94,58 83,58"/>
<polygon points="63,34 70,34 104,52 104,58 99,58"/><polygon points="-4,30 8,34 -4,48"/>
<polygon points="77,34 83,34 104,42 104,47"/><polygon points="24,29 26,29 26,58 20,58"/>
</g>
<rect x="-2" y="24.5" width="104" height="4.5" fill="#1b3a0c" opacity=".5"/>
</g>
<circle cx="27" cy="7.5" r="5.6" fill="#fffde6" filter="url(#fc_4)"/>
<rect width="100" height="56" fill="url(#gVig)"/>
</svg>
<path d="M571.0,620.6 V625.6 Q571.0,627.6 573.0,627.6 H604.0 Q606.0,627.6 606.0,625.6 V620.6" fill="none" stroke="#2a2a2a" stroke-width="1.9"/>
<g>
<rect x="536" y="397.3" width="102.6" height="60.6" fill="#262626"/>
<clipPath id="cpTv"><rect x="537.4" y="398.7" width="99.8" height="57.6"/></clipPath>
<g clip-path="url(#cpTv)">
<rect x="537" y="398" width="101" height="59" fill="#8bd9ee"/>
<circle cx="627.3" cy="404.2" r="12.8" fill="#f8e424"/>
<rect x="541" y="399.4" width="30.5" height="4" rx="2" fill="#fff"/><rect x="550" y="410" width="8.5" height="4.2" rx="2" fill="#fff"/><rect x="593" y="399.4" width="7" height="2.6" rx="1.3" fill="#fff" opacity=".7"/>
<path d="M575.7,450.5 V419.5 Q575.7,410.3 585,410.3 Q594.3,410.3 594.3,419.5 V450.5Z" fill="#a25c1c"/>
<path d="M593.3,450.5 V428.6 Q593.3,424.7 597.2,424.7 Q601.2,424.7 601.2,428.6 V450.5Z" fill="#ae6a28"/>
<circle cx="588.4" cy="406" r="5.7" fill="#1d4aa6"/><path d="M584.5,404 q3,-3.5 7,-1.5 M585,407 q3,-2.5 7,-0.5" stroke="#7aa6ea" stroke-width="1.1" fill="none"/>
<circle cx="607.8" cy="409.4" r="4.9" fill="#da2a6e"/><circle cx="608.6" cy="408" r="1.8" fill="#f8d0de"/><path d="M606.3,413 h3 l-1,3 h-1z" fill="#b82058"/>
<rect x="603" y="417" width="11.2" height="6" fill="#8c501c"/><rect x="603" y="417" width="11.2" height="2" fill="#76b030"/>
<path d="M539.3,450.5 V429.5 Q539.3,424.7 544,424.7 Q548.7,424.7 548.7,429.5 V450.5Z" fill="#1b561c"/><path d="M539.3,450.5 V441 Q540.5,436 542.6,441 V450.5Z" fill="#3fa03c"/><rect x="540.5" y="445" width="1" height="5.5" fill="#fff" opacity=".5"/>
<path d="M617,450.5 V430 Q617,419.6 627,419.6 Q637.2,419.6 637.2,430 V450.5Z" fill="#1a521b"/><path d="M619,450.5 L622.5,437 L626,450.5Z" fill="#3fa03c"/><path d="M632,450.5 L634.5,442 L637,450.5Z" fill="#2f8a30"/>
<circle cx="620" cy="433" r="1.8" fill="#8fc050"/>
<ellipse cx="561.3" cy="429.8" rx="5.7" ry="6.1" fill="#8c4a1a"/><rect x="559.2" y="434.5" width="1.5" height="3.6" fill="#5a2e10"/><rect x="562.4" y="434.5" width="1.5" height="3.6" fill="#5a2e10"/><rect x="563.5" y="428.2" width="4.5" height="1.8" fill="#fff"/>
<rect x="551" y="438.2" width="21.3" height="5.8" fill="#8c501c"/><rect x="551" y="438.2" width="21.3" height="2" fill="#76b030"/><circle cx="570" cy="442" r="1" fill="#f5d21f"/><circle cx="553.5" cy="442" r="1" fill="#f5d21f"/>
<path d="M602.8,450.5 V433.5 Q602.8,428 608.7,428 Q614.6,428 614.6,433.5 V450.5 H611.3 V446.5 H606.3 V450.5Z" fill="#44a640"/><rect x="604.6" y="431.3" width="3.2" height="1.6" fill="#fff"/><rect x="609.4" y="431.3" width="3.2" height="1.6" fill="#fff"/><path d="M602.8,436 l-3.5,-4 M614.6,436 l3.5,-3" stroke="#2f7a2e" stroke-width="1"/>
<rect x="585.8" y="432.3" width="6" height="17" rx="1.5" fill="#9cc044"/><rect x="587.3" y="436" width="3" height="4" fill="#6a8a2a"/><rect x="587.3" y="442" width="3" height="4" fill="#6a8a2a"/>
<circle cx="597.2" cy="429.5" r="2.7" fill="#cfa84c"/><rect x="596.7" y="432" width="1.1" height="7" fill="#6a4a1a"/>
<rect x="574" y="428" width="8.5" height="3.2" fill="#fff"/><rect x="627" y="423" width="9.6" height="3.2" fill="#fff"/>
<rect x="537" y="450.5" width="101" height="7" fill="#7c6a1e"/><rect x="537" y="449.6" width="101" height="1.8" fill="#62b02c"/>
<circle cx="540" cy="454.6" r="1.25" fill="#f8d820"/>
<circle cx="557" cy="454.6" r="1.25" fill="#f8d820"/>
<circle cx="575.7" cy="454.6" r="1.25" fill="#f8d820"/>
<circle cx="594.3" cy="454.6" r="1.25" fill="#f8d820"/>
<circle cx="616.3" cy="454.6" r="1.25" fill="#f8d820"/>
<circle cx="635.8" cy="454.6" r="1.25" fill="#f8d820"/>
</g></g>
<path d="M570.5,457.6 V462.6 Q570.5,464.6 572.5,464.6 H603.5 Q605.5,464.6 605.5,462.6 V457.6" fill="none" stroke="#2a2a2a" stroke-width="1.9"/>
<text x="372" y="484" font-size="13.1" text-anchor="middle" fill="#222" stroke="#222" stroke-width=".45">パソコン用モニター</text>
<text x="372" y="647.4" font-size="13.1" text-anchor="middle" fill="#222" stroke="#222" stroke-width=".45">パソコン用モニター</text>
<text x="587" y="483.7" font-size="12.8" text-anchor="middle" fill="#222" stroke="#222" stroke-width=".45">テレビ</text>
<text x="587" y="646.6" font-size="12.8" text-anchor="middle" fill="#222" stroke="#222" stroke-width=".45">テレビ</text>
<circle cx="480.7" cy="418.4" r="41.3" fill="#ffd900"/>
<path d="M439.9,428.4 Q437.7,439.4 427.3,445.2 Q438.7,446.4 450.7,447.4 L455.7,433.4 Z" fill="#ffd900"/>
<path d="M521.5,428.4 Q523.7,439.4 534.1,445.2 Q522.7,446.4 510.7,447.4 L505.7,433.4 Z" fill="#ffd900"/>
<circle cx="480.6" cy="577.6" r="41.5" fill="#ffd900"/>
<path d="M439.8,587.6 Q437.6,598.6 427.20000000000005,605 Q438.6,606.2 450.6,606.6 L455.6,592.6 Z" fill="#ffd900"/>
<path d="M521.4,587.6 Q523.6,598.6 534.0,605 Q522.6,606.2 510.6,606.6 L505.6,592.6 Z" fill="#ffd900"/>
<text x="480.7" y="415.8" font-size="19.5" font-weight="bold" text-anchor="middle" fill="#1a1a1a">別々の</text>
<text x="480.7" y="439" font-size="18.2" font-weight="bold" text-anchor="middle" fill="#1a1a1a">映像</text>
<text x="480" y="573.7" font-size="20.5" font-weight="bold" text-anchor="middle" fill="#1a1a1a">同じ</text>
<text x="480.6" y="595.5" font-size="18.2" font-weight="bold" text-anchor="middle" fill="#1a1a1a">映像</text>
<text x="58.6" y="426" font-size="28.6" fill="#333333">2</text>
<text x="77" y="424" font-size="22.6" fill="#333333" stroke="#333" stroke-width=".4">台のモニターに</text>
<text x="58.5" y="470.5" font-size="28" fill="#de3b2d" stroke="#de3b2d" stroke-width=".4">別々の映像</text>
<text x="199.5" y="470.3" font-size="27" fill="#333333">を出力</text>
<text x="284" y="472.5" font-size="35" fill="#333333">!</text>
<circle cx="72" cy="438" r="2.6" fill="#de3b2d"/><circle cx="103" cy="438" r="2.6" fill="#de3b2d"/>
<line x1="36" y1="493" x2="651" y2="493" stroke="#838383" stroke-width="1.5" stroke-dasharray="2.2 1.25"/>
<text x="61.6" y="564" font-size="29.3" fill="#333333">2</text>
<text x="80" y="562" font-size="22.6" fill="#333333" stroke="#333" stroke-width=".4">台のモニターに</text>
<text x="62.6" y="607.8" font-size="28" fill="#de3b2d" stroke="#de3b2d" stroke-width=".4">同じ映像</text>
<text x="178.5" y="608" font-size="26" fill="#333333">を出力</text>
<text x="263" y="610" font-size="35" fill="#333333">!</text>
<circle cx="72" cy="574.5" r="2.6" fill="#de3b2d"/><circle cx="104" cy="574.5" r="2.6" fill="#de3b2d"/>
</svg>
</body></html>
